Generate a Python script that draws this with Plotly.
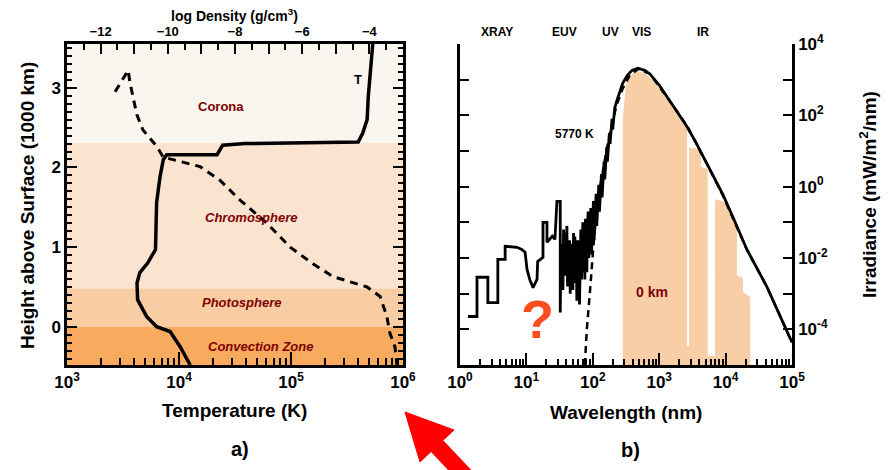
import numpy as np
import plotly.graph_objects as go

# ---------------- Panel a) : structure of the solar atmosphere ----------------
# temperature profile (height in 1000 km, log10 T in K)
temp_height = [-0.48, -0.25, -0.06, 0.0, 0.13, 0.34, 0.55, 0.68, 0.80, 0.97, 1.56, 1.88,
               2.10, 2.16, 2.16, 2.28, 2.30, 2.32, 2.43, 2.60, 2.89, 3.26, 3.55]
temp_log = [4.10, 4.01, 3.92, 3.80, 3.71, 3.63, 3.625, 3.65, 3.72, 3.79, 3.80, 3.83,
            3.86, 3.89, 4.34, 4.39, 4.59, 5.60, 5.64, 5.68, 5.69, 5.71, 5.73]

# density profile (height in 1000 km, log10 density in g/cm^3)
dens_height = [2.95, 3.10, 3.22, 3.07, 2.89, 2.66, 2.47, 2.26, 2.13, 2.05, 2.01, 1.84,
               1.59, 1.30, 1.00, 0.79, 0.63, 0.565, 0.50, 0.38, 0.13, -0.08, -0.25, -0.48]
dens_log = [-11.57, -11.36, -11.18, -11.13, -11.04, -10.92, -10.74, -10.32, -10.14, -9.43,
            -9.04, -8.45, -7.85, -7.05, -6.36, -5.68, -5.08, -4.58, -4.07, -3.68, -3.48,
            -3.39, -3.24, -3.18]

layer_names = ["Corona", "<i>Chromosphere</i>", "<i>Photosphere</i>", "<i>Convection Zone</i>"]
layer_bottom = [2.31, 0.48, 0.0, -0.48]
layer_top = [3.55, 2.31, 0.48, 0.0]
layer_colors = ["#F8F6EE", "#FAE4CF", "#F8CDA3", "#F8AB5F"]
layer_label_logT = [4.375, 4.64, 4.56, 4.73]
layer_label_height = [2.77, 1.37, 0.30, -0.25]

# ---------------- Panel b) : solar spectral irradiance ----------------
# measured spectrum above the atmosphere (log10 nm, log10 mW/m^2/nm)
spec_log_wl = [0.12, 0.256, 0.256, 0.42, 0.42, 0.57, 0.57, 0.68, 0.68, 0.86, 0.93, 0.98,
               1.01, 1.05, 1.10, 1.16, 1.17, 1.25, 1.25, 1.31, 1.31, 1.39, 1.43, 1.46,
               1.51, 1.51, 1.52, 1.53, 1.54, 1.55, 1.56, 1.57, 1.58, 1.59, 1.60, 1.61,
               1.62, 1.63, 1.64, 1.65, 1.66, 1.67, 1.68, 1.69, 1.70, 1.71, 1.72, 1.73,
               1.74, 1.75, 1.76, 1.77, 1.78, 1.79, 1.80, 1.81, 1.82, 1.83, 1.84, 1.85,
               1.86, 1.87, 1.88, 1.89, 1.90, 1.91, 1.92, 1.93, 1.94, 1.95, 1.96, 1.97,
               1.98, 1.99, 2.00, 2.01, 2.02, 2.03, 2.04, 2.05, 2.06, 2.07, 2.08, 2.09,
               2.10, 2.11, 2.12, 2.13, 2.14, 2.15, 2.16, 2.17, 2.18, 2.19, 2.20, 2.21,
               2.22, 2.23, 2.24, 2.25, 2.26, 2.27, 2.28, 2.29, 2.30, 2.31, 2.32, 2.33,
               2.36, 2.41, 2.45, 2.52, 2.59,
               2.68, 2.78, 2.86, 3.0, 3.16, 3.30, 3.42, 3.55, 3.66, 3.80, 3.96, 4.11,
               4.32, 4.62, 4.80, 5.0]
spec_log_irr = [-3.64, -3.64, -2.54, -2.54, -3.25, -3.25, -2.04, -2.04, -1.67, -1.70, -1.76, -1.84,
                -2.32, -2.60, -2.83, -2.60, -2.10, -1.98, -1.00, -1.00, -1.56, -1.39, -1.48, -0.41,
                -0.41, -3.53, -1.9, -2.6, -1.6, -2.9, -1.2, -2.4, -1.3, -2.5, -1.5, -1.1,
                -2.8, -1.6, -2.2, -1.5, -3.0, -1.7, -2.3, -1.6, -2.9, -1.3, -2.0, -1.4,
                -2.7, -1.5, -3.2, -1.8, -2.2, -1.5, -3.3, -2.0, -1.2, -2.6, -1.9, -1.0,
                -2.4, -1.4, -2.6, -0.9, -1.9, -2.4, -1.1, -0.7, -2.0, -1.6, -0.8, -0.6,
                -1.9, -1.2, -0.5, -0.4, -1.5, -1.0, -0.3, -0.2, -1.1, -0.6, 0.0, 0.05,
                -0.7, -0.2, 0.3, 0.35, -0.3, 0.2, 0.6, 0.7, 0.2, 0.5, 0.9, 1.1,
                0.7, 1.0, 1.3, 1.5, 1.2, 1.5, 1.8, 1.9, 1.6, 1.9, 2.1, 2.2,
                2.4, 2.7, 2.9, 3.12, 3.26,
                3.32, 3.26, 3.16, 2.85, 2.40, 2.0, 1.68, 1.25, 0.85, 0.35, -0.22, -0.85,
                -1.76, -2.8, -3.55, -4.37]

# 5770 K black body
bb_log_wl = [1.88, 1.91, 1.96, 2.02, 2.08, 2.14, 2.21, 2.29, 2.36, 2.45, 2.55, 2.68,
             2.86, 3.16, 3.42, 3.66, 3.96, 4.32, 4.62, 5.0]
bb_log_irr = [-5.0, -4.0, -2.88, -1.4, -0.35, 0.35, 1.05, 1.75, 2.3, 2.75, 3.1, 3.30,
              3.16, 2.40, 1.70, 0.85, -0.25, -1.76, -2.8, -4.37]

# irradiance reaching the ground (0 km), outline of the shaded region
ground_log_wl = [2.45, 2.45, 2.50, 2.55, 2.62, 2.68, 2.78, 2.86, 3.0, 3.16, 3.30, 3.42,
                 3.42, 3.45, 3.45, 3.63, 3.63, 3.73, 3.73, 3.84, 3.84, 3.98, 4.06, 4.12,
                 4.17, 4.17, 4.26, 4.26, 4.37, 4.37]
ground_log_irr = [-5.0, 1.85, 2.85, 3.08, 3.2, 3.24, 3.17, 3.06, 2.76, 2.32, 1.92, 1.62,
                  -4.48, -4.48, 1.10, 1.05, 0.55, 0.50, -4.75, -4.75, -0.35, -0.42, -0.62, -0.85,
                  -1.0, -2.5, -2.55, -2.95, -3.1, -5.0]

band_names = ["XRAY", "EUV", "UV", "VIS", "IR"]
band_centers_nm = [3.6, 38, 182, 550, 4600]
band_edges_nm = [10, 120, 380, 780]

# ---------------- figure ----------------
FONT = "Liberation Sans, Arial, Helvetica, sans-serif"
BLACK = "black"
DARKRED = "#7F0000"
W, H = 888, 470

fig = go.Figure()

for lo, hi, col in zip(layer_bottom, layer_top, layer_colors):
    fig.add_shape(type="rect", xref="x domain", yref="y", x0=0, x1=1, y0=lo, y1=hi,
                  fillcolor=col, line_width=0, layer="below")

fig.add_trace(go.Scatter(x=10 ** np.array(temp_log), y=temp_height, mode="lines",
                         line=dict(color=BLACK, width=3.5), xaxis="x", yaxis="y",
                         showlegend=False, hoverinfo="skip"))
fig.add_trace(go.Scatter(x=dens_log, y=dens_height, mode="lines",
                         line=dict(color=BLACK, width=3, dash="8px,6px"), xaxis="x3", yaxis="y",
                         showlegend=False, hoverinfo="skip"))

fig.add_trace(go.Scatter(x=10 ** np.array(ground_log_wl), y=10 ** np.array(ground_log_irr),
                         mode="lines", fill="toself", fillcolor="#F7CEA6",
                         line=dict(width=0, color="#F7CEA6"), xaxis="x2", yaxis="y2",
                         showlegend=False, hoverinfo="skip"))
fig.add_trace(go.Scatter(x=10 ** np.array(bb_log_wl), y=10 ** np.array(bb_log_irr),
                         mode="lines", line=dict(color=BLACK, width=2.5, dash="7px,5px"),
                         xaxis="x2", yaxis="y2", showlegend=False, hoverinfo="skip"))
fig.add_trace(go.Scatter(x=10 ** np.array(spec_log_wl), y=10 ** np.array(spec_log_irr),
                         mode="lines", line=dict(color=BLACK, width=2.8),
                         xaxis="x2", yaxis="y2", showlegend=False, hoverinfo="skip"))

tickfont = dict(family=FONT, size=17, color=BLACK, weight="bold")
common = dict(showline=True, linecolor=BLACK, linewidth=2.5, ticks="inside",
              tickcolor=BLACK, tickwidth=2, showgrid=False, zeroline=False,
              tickfont=tickfont, automargin=False)


def sup(e):
    return "10<sup>%d</sup>" % e


dom_y = [0.2234, 0.9064]
minor_T = [k * 10 ** e for e in (3, 4, 5) for k in range(2, 10)]
minor_wl = [k * 10 ** e for e in range(0, 5) for k in range(2, 10)]

fig.update_layout(
    width=W, height=H, margin=dict(l=0, r=0, t=0, b=0, autoexpand=False),
    paper_bgcolor="white", plot_bgcolor="white", showlegend=False,
    xaxis=dict(common, domain=[0.0755, 0.4538], anchor="y", type="log", range=[3, 6],
               tickvals=[1e3, 1e4, 1e5, 1e6], ticktext=[sup(e) for e in (3, 4, 5, 6)],
               ticklen=13, mirror=False,
               minor=dict(ticks="inside", ticklen=7, tickwidth=1.5, tickcolor=BLACK,
                          tickmode="array", tickvals=minor_T)),
    yaxis=dict(common, domain=dom_y, anchor="x", range=[-0.48, 3.55],
               tickvals=[0, 1, 2, 3], ticktext=["0", "1", "2", "3"], ticklen=10, mirror="ticks",
               minor=dict(ticks="inside", ticklen=5, tickwidth=1.5, tickcolor=BLACK,
                          tickmode="linear", tick0=0, dtick=0.1)),
    xaxis3=dict(common, overlaying="x", side="top", anchor="y", range=[-13, -3],
                tickvals=list(range(-13, -2)),
                ticktext=["" if v % 2 else "\u2212%d" % (-v) for v in range(-13, -2)],
                ticklen=10, tickfont=dict(family=FONT, size=13, color=BLACK, weight="bold"),
                minor=dict(ticks="inside", ticklen=6, tickwidth=1.5, tickcolor=BLACK,
                           tickmode="linear", tick0=-13, dtick=0.5)),
    xaxis2=dict(common, domain=[0.518, 0.8919], anchor="y2", type="log", range=[0, 5],
                tickvals=[10 ** e for e in range(6)], ticktext=[sup(e) for e in range(6)],
                ticklen=12, mirror=False,
                minor=dict(ticks="inside", ticklen=6, tickwidth=1.5, tickcolor=BLACK,
                           tickmode="array", tickvals=minor_wl)),
    yaxis2=dict(common, domain=dom_y, anchor="x2", type="log", range=[-5, 4], side="right",
                tickvals=[10.0 ** e for e in range(-5, 5)],
                ticktext=[sup(e) if e % 2 == 0 else "" for e in range(-5, 5)],
                ticklen=9, mirror="ticks"),
    xaxis4=dict(common, overlaying="x2", side="top", anchor="y2", type="log", range=[0, 5],
                tickvals=band_edges_nm, showticklabels=False, ticklen=5, tickwidth=3),
)


def label(x, y, text, size, color=BLACK, xref="paper", yref="paper", **kw):
    return dict(x=x, y=y, xref=xref, yref=yref, text=text, showarrow=False,
                xanchor="center", yanchor="middle",
                font=dict(family=FONT, size=size, color=color), **kw)


ann = []
for name, t, h in zip(layer_names, layer_label_logT, layer_label_height):
    ann.append(label(t, h, "<b>%s</b>" % name, 13, DARKRED, "x", "y"))
ann.append(label(5.60, 3.10, "<b>T</b>", 13, BLACK, "x", "y"))
for name, c in zip(band_names, band_centers_nm):
    ann.append(label(np.log10(c), 0.932, "<b>%s</b>" % name, 12, BLACK, "x2", "paper"))
ann += [
    label(2.89, -2.94, "<b>0 km</b>", 14, DARKRED, "x2", "y2"),
    label(1.73, 1.47, "<b>5770 K</b>", 12, BLACK, "x2", "y2"),
    label(1.16, -3.72, "<b>?</b>", 54, "#FF4D1F", "x2", "y2"),
    # axis titles and panel labels
    label(0.2646, 0.968, "<b>log Density (g/cm<sup>3</sup>)</b>", 14),
    label(0.2646, 0.127, "<b>Temperature (K)</b>", 19),
    label(0.705, 0.123, "<b>Wavelength (nm)</b>", 19),
    label(0.0315, 0.564, "<b>Height above Surface (1000 km)</b>", 19, textangle=-90),
    label(0.9775, 0.585, "<b>Irradiance (mW/m<sup>2</sup>/nm)</b>", 19, textangle=-90),
    label(0.2703, 0.044, "<b>a)</b>", 20),
    label(0.7095, 0.043, "<b>b)</b>", 20),
]
fig.update_layout(annotations=ann)

# red pointer arrow in the lower margin (head tip towards the upper left)
tip = (405 / W, 1 - 412 / H)
c1 = (454 / W, 1 - 430 / H)
c2 = (420 / W, 1 - 462 / H)
fig.add_shape(type="line", xref="paper", yref="paper",
              x0=437 / W, y0=1 - 446 / H, x1=505 / W, y1=1 - 518 / H,
              line=dict(color="#FF0000", width=17))
fig.add_shape(type="path", xref="paper", yref="paper",
              path="M %f,%f L %f,%f L %f,%f Z" % (tip + c1 + c2),
              fillcolor="#FF0000", line=dict(color="#FF0000", width=1))

fig.write_html("out.html")
